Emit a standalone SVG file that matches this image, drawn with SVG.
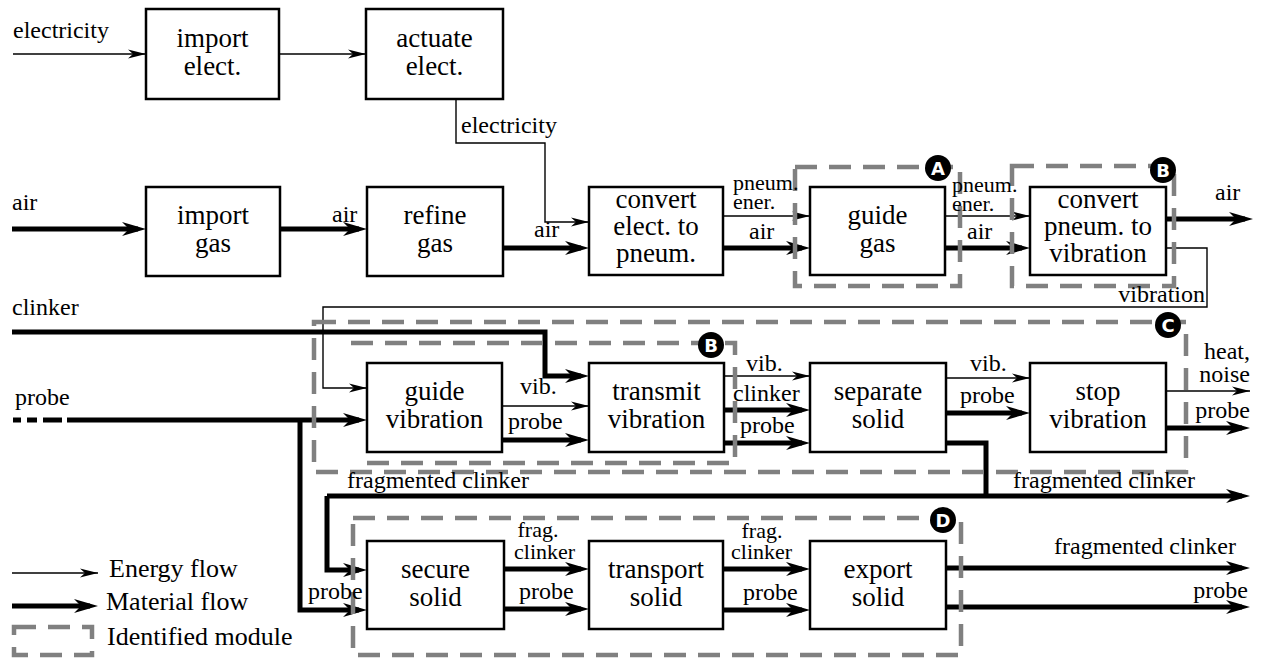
<svg xmlns="http://www.w3.org/2000/svg" width="1266" height="659" viewBox="0 0 1266 659" font-family="Liberation Serif, DejaVu Serif, serif">
<defs>
<style>
.box{fill:#fff;stroke:#000;stroke-width:2.5}
.bt{font-size:27px;text-anchor:middle;fill:#000}
.lb{font-size:24px;fill:#000}
.sm{font-size:22px}
.lg{font-size:26px;fill:#000}
.end{text-anchor:end}
.mid{text-anchor:middle}
.thin{fill:none;stroke:#000;stroke-width:1.4;marker-end:url(#ah)}
.thick{fill:none;stroke:#000;stroke-width:5;marker-end:url(#AH)}
.thickn{fill:none;stroke:#000;stroke-width:5}
.mod{fill:none;stroke:#808080;stroke-width:4.5;stroke-dasharray:22 12}
.badge circle{fill:#000}
.badge text{fill:#fff;font-weight:bold;font-size:18px;text-anchor:middle}
</style>
<marker id="ah" markerUnits="userSpaceOnUse" markerWidth="18" markerHeight="10" refX="18" refY="5" orient="auto" overflow="visible">
<path d="M0,0.5 L18,5 L0,9.5 L5,5 z" fill="#000"/>
</marker>
<marker id="AH" markerUnits="userSpaceOnUse" markerWidth="24" markerHeight="14" refX="16" refY="7" orient="auto" overflow="visible">
<path d="M0,0 L24,7 L0,14 L7,7 z" fill="#000"/>
</marker>
</defs>
<rect width="1266" height="659" fill="#fff"/>

<g id="connectors">
<path class="thin" d="M13,54 H146"/>
<path class="thin" d="M279,54 H366"/>
<path class="thin" d="M456,99 V143 H545 V222 H589"/>
<path class="thin" d="M723,216 H810"/>
<path class="thin" d="M945,216 H1030"/>
<path class="thin" d="M1166,248 H1207 V307 H323 V388 H367"/>
<path class="thin" d="M502,406 H589"/>
<path class="thin" d="M724,376 H810"/>
<path class="thin" d="M946,378 H1030"/>
<path class="thin" d="M1166,391 H1250"/>

<path class="thick" d="M12,229 H138"/>
<path class="thick" d="M280,229 H359"/>
<path class="thick" d="M503,248 H581"/>
<path class="thick" d="M723,248 H802"/>
<path class="thick" d="M945,248 H1022"/>
<path class="thick" d="M1166,219 H1245"/>
<path class="thick" d="M12,332 H545 V376 H581"/>
<path class="thickn" d="M13,420 H21 M27,420 H37 M43,420 H62"/>
<path class="thick" d="M67,420 H359"/>
<path class="thick" d="M300,420 V610 H359"/>
<path class="thick" d="M502,440 H581"/>
<path class="thick" d="M724,410 H802"/>
<path class="thick" d="M724,443 H802"/>
<path class="thick" d="M946,413 H1022"/>
<path class="thickn" d="M946,443 H986 V496"/>
<path class="thick" d="M327,496 H1242"/>
<path class="thick" d="M327,496 V570 H359"/>
<path class="thick" d="M1166,428 H1242"/>
<path class="thick" d="M504,569 H581"/>
<path class="thick" d="M504,609 H581"/>
<path class="thick" d="M723,569 H802"/>
<path class="thick" d="M723,610 H802"/>
<path class="thick" d="M943,568 H1242"/>
<path class="thick" d="M946,607 H1242"/>
</g>

<g id="modules">
<rect id="module-A" class="mod" x="795" y="167" width="165" height="119"/>
<rect id="module-B1" class="mod" x="1012" y="166" width="162" height="120"/>
<rect id="module-C" class="mod" x="314" y="322" width="872" height="150"/>
<path id="module-B2" class="mod" d="M351,343 H735 V463 H355"/>
<rect id="module-D" class="mod" x="353" y="518" width="608" height="137"/>
</g>

<g id="import-elect"><rect class="box" x="146" y="9" width="133" height="90"/><text class="bt" x="212.5" y="47">import</text><text class="bt" x="212.5" y="75">elect.</text></g>
<g id="actuate-elect"><rect class="box" x="366" y="9" width="137" height="90"/><text class="bt" x="434.5" y="47">actuate</text><text class="bt" x="434.5" y="75">elect.</text></g>
<g id="import-gas"><rect class="box" x="146" y="187" width="134" height="89"/><text class="bt" x="213" y="224">import</text><text class="bt" x="213" y="252">gas</text></g>
<g id="refine-gas"><rect class="box" x="367" y="187" width="136" height="89"/><text class="bt" x="435" y="224">refine</text><text class="bt" x="435" y="252">gas</text></g>
<g id="convert-elect"><rect class="box" x="589" y="187" width="134" height="88"/><text class="bt" x="656" y="208">convert</text><text class="bt" x="656" y="235">elect. to</text><text class="bt" x="656" y="262">pneum.</text></g>
<g id="guide-gas"><rect class="box" x="810" y="187" width="135" height="88"/><text class="bt" x="877.5" y="224">guide</text><text class="bt" x="877.5" y="252">gas</text></g>
<g id="convert-pneum"><rect class="box" x="1030" y="187" width="136" height="88"/><text class="bt" x="1098" y="208">convert</text><text class="bt" x="1098" y="235">pneum. to</text><text class="bt" x="1098" y="262">vibration</text></g>
<g id="guide-vibration"><rect class="box" x="367" y="363" width="135" height="89"/><text class="bt" x="434.5" y="400">guide</text><text class="bt" x="434.5" y="428">vibration</text></g>
<g id="transmit-vibration"><rect class="box" x="589" y="363" width="135" height="89"/><text class="bt" x="656.5" y="400">transmit</text><text class="bt" x="656.5" y="428">vibration</text></g>
<g id="separate-solid"><rect class="box" x="810" y="363" width="136" height="89"/><text class="bt" x="878" y="400">separate</text><text class="bt" x="878" y="428">solid</text></g>
<g id="stop-vibration"><rect class="box" x="1030" y="363" width="136" height="89"/><text class="bt" x="1098" y="400">stop</text><text class="bt" x="1098" y="428">vibration</text></g>
<g id="secure-solid"><rect class="box" x="367" y="541" width="137" height="88"/><text class="bt" x="435.5" y="578">secure</text><text class="bt" x="435.5" y="606">solid</text></g>
<g id="transport-solid"><rect class="box" x="589" y="541" width="134" height="88"/><text class="bt" x="656" y="578">transport</text><text class="bt" x="656" y="606">solid</text></g>
<g id="export-solid"><rect class="box" x="810" y="541" width="136" height="88"/><text class="bt" x="878" y="578">export</text><text class="bt" x="878" y="606">solid</text></g>

<g id="labels">
<text class="lb" x="13" y="38">electricity</text>
<text class="lb" x="461" y="133">electricity</text>
<text class="lb" x="12" y="210">air</text>
<text class="lb" x="332" y="222">air</text>
<text class="lb" x="534" y="237">air</text>
<text class="lb sm" x="733" y="190">pneum.</text>
<text class="lb sm" x="733" y="209">ener.</text>
<text class="lb" x="749" y="239">air</text>
<text class="lb sm" x="952" y="192">pneum.</text>
<text class="lb sm" x="952" y="211">ener.</text>
<text class="lb" x="967" y="239">air</text>
<text class="lb" x="1215" y="200">air</text>
<text class="lb end" x="1205" y="302">vibration</text>
<text class="lb" x="12" y="315">clinker</text>
<text class="lb" x="15" y="405">probe</text>
<text class="lb" x="520" y="394">vib.</text>
<text class="lb" x="508" y="429">probe</text>
<text class="lb" x="746" y="371">vib.</text>
<text class="lb" x="733" y="401">clinker</text>
<text class="lb" x="740" y="433">probe</text>
<text class="lb" x="970" y="371">vib.</text>
<text class="lb" x="960" y="403">probe</text>
<text class="lb end" x="1250" y="359">heat,</text>
<text class="lb end" x="1250" y="382">noise</text>
<text class="lb end" x="1250" y="418">probe</text>
<text class="lb" x="347" y="488">fragmented clinker</text>
<text class="lb end" x="1195" y="488">fragmented clinker</text>
<text class="lb sm mid" x="538" y="537">frag.</text>
<text class="lb sm" x="514" y="559">clinker</text>
<text class="lb" x="519" y="599">probe</text>
<text class="lb" x="308" y="599">probe</text>
<text class="lb sm mid" x="762" y="538">frag.</text>
<text class="lb sm" x="731" y="559">clinker</text>
<text class="lb" x="743" y="600">probe</text>
<text class="lb end" x="1236" y="554">fragmented clinker</text>
<text class="lb end" x="1248" y="598">probe</text>
</g>

<g id="badges" font-family="DejaVu Sans, sans-serif">
<g class="badge"><circle cx="938" cy="168" r="13"/><text x="938" y="175">A</text></g>
<g class="badge"><circle cx="1163" cy="170" r="13"/><text x="1163" y="177">B</text></g>
<g class="badge"><circle cx="711" cy="345" r="13"/><text x="711" y="352">B</text></g>
<g class="badge"><circle cx="1168" cy="325" r="13"/><text x="1168" y="332">C</text></g>
<g class="badge"><circle cx="943" cy="520" r="13"/><text x="943" y="527">D</text></g>
</g>

<g id="legend">
<path class="thin" d="M12,573 H98"/>
<text class="lg" x="109" y="577">Energy flow</text>
<path class="thick" d="M12,606 H90"/>
<text class="lg" x="106" y="610">Material flow</text>
<rect class="mod" x="14" y="627" width="78" height="28"/>
<text class="lg" x="107" y="645">Identified module</text>
</g>
</svg>
